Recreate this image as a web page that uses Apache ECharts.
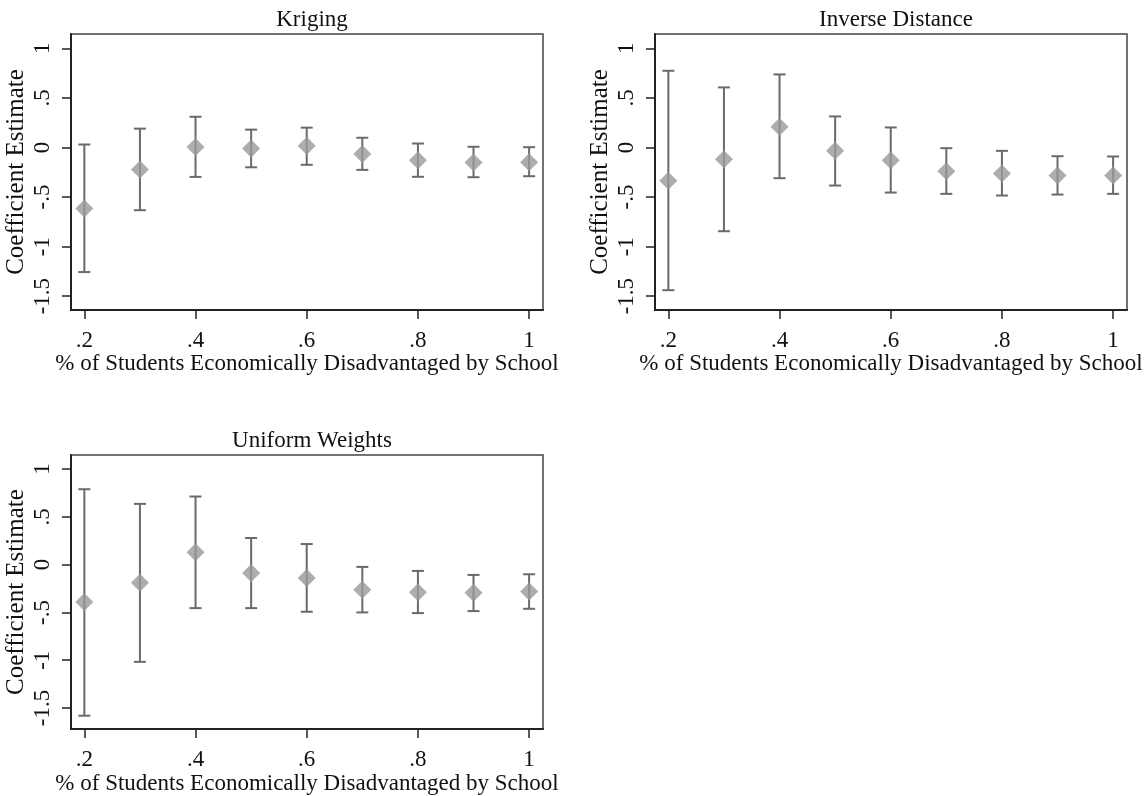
<!DOCTYPE html>
<html>
<head>
    <meta charset="UTF-8">
    <script src="https://cdn.jsdelivr.net/npm/echarts@6/dist/echarts.min.js"></script>
    <style>
        body { margin:0; background:#fff; }
        #main { width:1146px; height:796px; }
    </style>
</head>
<body>
<div id="main"></div>
<script>
var xVals = [0.2, 0.3, 0.4, 0.5, 0.6, 0.7, 0.8, 0.9, 1.0];
var xTicks = [0.2, 0.4, 0.6, 0.8, 1];
var yTicks = [-1.5, -1, -0.5, 0, 0.5, 1];

var krigEst = [-0.616, -0.222, 0.006, -0.010, 0.017, -0.067, -0.128, -0.152, -0.148];
var krigLo  = [-1.257, -0.633, -0.297, -0.200, -0.175, -0.226, -0.296, -0.300, -0.290];
var krigHi  = [0.030, 0.190, 0.310, 0.180, 0.200, 0.098, 0.040, 0.007, 0.003];

var invEst = [-0.337, -0.118, 0.208, -0.034, -0.128, -0.239, -0.263, -0.283, -0.283];
var invLo  = [-1.440, -0.845, -0.310, -0.384, -0.455, -0.468, -0.485, -0.475, -0.468];
var invHi  = [0.774, 0.606, 0.737, 0.313, 0.202, -0.007, -0.034, -0.088, -0.091];

var uniEst = [-0.392, -0.191, 0.128, -0.087, -0.139, -0.264, -0.288, -0.295, -0.281];
var uniLo  = [-1.580, -1.017, -0.455, -0.455, -0.493, -0.500, -0.507, -0.486, -0.462];
var uniHi  = [0.788, 0.635, 0.712, 0.278, 0.215, -0.024, -0.066, -0.108, -0.101];

var panels = [
    {title:'Kriging', est:krigEst, lo:krigLo, hi:krigHi, left:71, top:34, ymin:-1.64, ymax:1.145},
    {title:'Inverse Distance', est:invEst, lo:invLo, hi:invHi, left:655, top:34, ymin:-1.64, ymax:1.145},
    {title:'Uniform Weights', est:uniEst, lo:uniLo, hi:uniHi, left:71, top:455, ymin:-1.72, ymax:1.146}
];

var font = 'Liberation Serif';
var txt = '#111';

function fmt(v){
    if (v === 0) return '0';
    return String(v).replace('0.', '.');
}

var grids = [], xAxes = [], yAxes = [], titles = [], series = [];
panels.forEach(function(p, i){
    grids.push({left:p.left, top:p.top, width:472, height:276, show:true,
        borderColor:'#444', borderWidth:1.5, backgroundColor:'#fff'});
    titles.push({text:p.title, left:p.left + 236, top:p.top - 31, textAlign:'center',
        textStyle:{fontFamily:font, fontWeight:'normal', fontSize:23, color:txt}});
    xAxes.push({type:'value', gridIndex:i, min:0.176, max:1.025,
        name:'% of Students Economically Disadvantaged by School', nameLocation:'middle', nameGap:41,
        nameTextStyle:{fontFamily:font, fontSize:23, color:txt},
        axisLine:{show:true, onZero:false, lineStyle:{color:'#222', width:2}},
        axisTick:{show:true, length:9, customValues:xTicks, lineStyle:{color:'#222', width:1.5}},
        axisLabel:{customValues:xTicks, formatter:fmt, fontFamily:font, fontSize:23, color:txt, margin:19},
        splitLine:{show:false}});
    yAxes.push({type:'value', gridIndex:i, min:p.ymin, max:p.ymax,
        name:'Coefficient Estimate', nameLocation:'middle', nameGap:42,
        nameTextStyle:{fontFamily:font, fontSize:25, color:txt},
        axisLine:{show:true, onZero:false, lineStyle:{color:'#222', width:2}},
        axisTick:{show:true, length:9, customValues:yTicks, lineStyle:{color:'#222', width:1.5}},
        axisLabel:{customValues:yTicks, formatter:fmt, rotate:90, fontFamily:font, fontSize:23, color:txt, margin:17},
        splitLine:{show:false}});
    series.push({
        type:'custom', xAxisIndex:i, yAxisIndex:i,
        data:xVals.map(function(x, k){ return [x, p.lo[k], p.hi[k]]; }),
        encode:{x:0, y:[1, 2]},
        renderItem:function(params, api){
            var x = api.value(0);
            var a = api.coord([x, api.value(2)]);
            var b = api.coord([x, api.value(1)]);
            var st = {stroke:'#6a6a6a', lineWidth:2};
            var w = 6;
            return {type:'group', children:[
                {type:'line', shape:{x1:a[0], y1:a[1], x2:b[0], y2:b[1]}, style:st},
                {type:'line', shape:{x1:a[0]-w, y1:a[1], x2:a[0]+w, y2:a[1]}, style:st},
                {type:'line', shape:{x1:b[0]-w, y1:b[1], x2:b[0]+w, y2:b[1]}, style:st}
            ]};
        },
        z:2
    });
    series.push({
        type:'scatter', xAxisIndex:i, yAxisIndex:i,
        data:xVals.map(function(x, k){ return [x, p.est[k]]; }),
        symbol:'diamond', symbolSize:18,
        itemStyle:{color:'#999999'}, z:3
    });
});

var chart = echarts.init(document.getElementById('main'));
chart.setOption({
    animation:false,
    backgroundColor:'#fff',
    title:titles,
    grid:grids,
    xAxis:xAxes,
    yAxis:yAxes,
    series:series
});
</script>
</body>
</html>
